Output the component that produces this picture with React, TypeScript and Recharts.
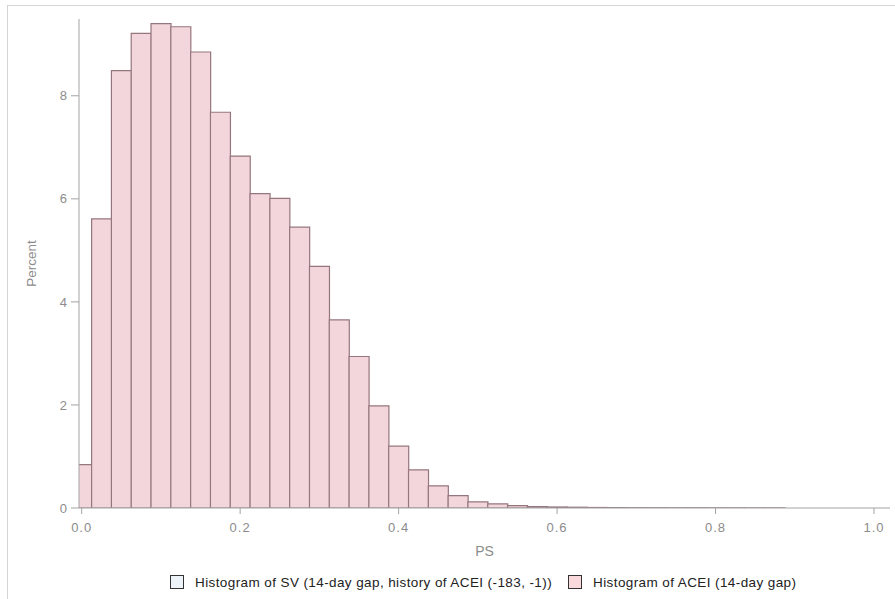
import React from 'react';
import { ComposedChart, Bar, XAxis, YAxis, Legend } from 'recharts';

const FONT = '"Liberation Sans", Arial, sans-serif';

// bin midpoints of the PS histogram (bin width 0.025)
const binCenters = [
  0, 0.025, 0.05, 0.075, 0.1, 0.125, 0.15, 0.175, 0.2, 0.225, 0.25, 0.275,
  0.3, 0.325, 0.35, 0.375, 0.4, 0.425, 0.45, 0.475, 0.5, 0.525, 0.55, 0.575,
  0.6, 0.625, 0.65, 0.675, 0.7, 0.725, 0.75, 0.775, 0.8, 0.825, 0.85, 0.875,
];

// percent of ACEI (14-day gap) patients in each bin
const aceiPercent = [
  0.84, 5.61, 8.49, 9.21, 9.4, 9.34, 8.85, 7.68, 6.83, 6.1, 6.01, 5.45,
  4.69, 3.65, 2.94, 1.98, 1.2, 0.74, 0.43, 0.24, 0.12, 0.08, 0.045, 0.025,
  0.02, 0.015, 0.01, 0.008, 0.006, 0.005, 0.004, 0.004, 0.003, 0.003, 0.002, 0.002,
];

const xTicks = [0, 0.2, 0.4, 0.6, 0.8, 1.0];
const yTicks = [0, 2, 4, 6, 8];

const legendItems = [
  { name: 'Histogram of SV (14-day gap, history of ACEI (-183, -1))', fill: '#edf3f8' },
  { name: 'Histogram of ACEI (14-day gap)', fill: '#f9d9dc' },
];

const data = binCenters.map((ps, i) => ({ ps, acei: aceiPercent[i] }));

const AXIS = '#a3a3a3';
const TEXT = '#8c8c8c';

const renderLegend = () => (
  <div
    style={{
      display: 'flex',
      alignItems: 'center',
      height: 20,
      paddingLeft: 170,
      fontFamily: FONT,
      fontSize: 13.5,
      letterSpacing: 0.4,
      color: '#222',
    }}
  >
    {legendItems.map((item, i) => (
      <div key={`legend-${i}`} style={{ display: 'flex', alignItems: 'center', marginRight: 16 }}>
        <span
          style={{
            display: 'inline-block',
            width: 12,
            height: 12,
            border: '1px solid #333',
            background: item.fill,
            marginRight: 11,
          }}
        />
        <span>{item.name}</span>
      </div>
    ))}
  </div>
);

export default function App() {
  return (
    <div style={{ position: 'absolute', left: 0, top: 0, width: 895, height: 599, background: '#fff', overflow: 'hidden' }}>
      <div
        style={{
          position: 'absolute',
          left: 7,
          top: 5,
          width: 900,
          height: 600,
          borderTop: '1px solid #d4d4d4',
          borderLeft: '1px solid #d4d4d4',
        }}
      />
      <div style={{ position: 'absolute', left: 0, top: 0 }}>
        <ComposedChart
          width={895}
          height={599}
          data={data}
          margin={{ top: 19, right: 5, left: 0, bottom: 7 }}
          barCategoryGap={0}
          barGap={0}
        >
          <XAxis
            dataKey="ps"
            type="number"
            domain={[-0.0034, 1.0202]}
            allowDataOverflow
            ticks={xTicks}
            tickFormatter={(v: number) => v.toFixed(1)}
            height={64}
            stroke={AXIS}
            tickSize={6}
            tickMargin={9}
            tick={{ fill: TEXT, fontSize: 13, fontFamily: FONT, letterSpacing: 1 }}
            label={{ value: 'PS', position: 'insideTop', offset: 38, fill: TEXT, fontSize: 14, fontFamily: FONT }}
          />
          <XAxis
            xAxisId="top"
            orientation="top"
            type="number"
            domain={[-0.0034, 1.0202]}
            allowDataOverflow
            height={0}
            tick={false}
            tickLine={false}
            stroke={AXIS}
          />
          <YAxis
            type="number"
            domain={[0, 9.49]}
            allowDataOverflow
            ticks={yTicks}
            width={79}
            stroke={AXIS}
            tickSize={8}
            tickMargin={4}
            tick={{ fill: TEXT, fontSize: 13, fontFamily: FONT }}
            label={{
              value: 'Percent',
              angle: -90,
              position: 'insideLeft',
              offset: 31,
              fill: TEXT,
              fontSize: 13.5,
              fontFamily: FONT,
              style: { textAnchor: 'middle' },
            }}
          />
          <YAxis
            yAxisId="right"
            orientation="right"
            type="number"
            domain={[0, 9.49]}
            width={0}
            tick={false}
            tickLine={false}
            stroke={AXIS}
          />
          <Legend verticalAlign="bottom" height={20} content={renderLegend} />
          <Bar
            dataKey="acei"
            name={legendItems[1].name}
            fill="#f3d6db"
            stroke="#96767e"
            strokeWidth={1.2}
            isAnimationActive={false}
          />
        </ComposedChart>
      </div>
    </div>
  );
}
